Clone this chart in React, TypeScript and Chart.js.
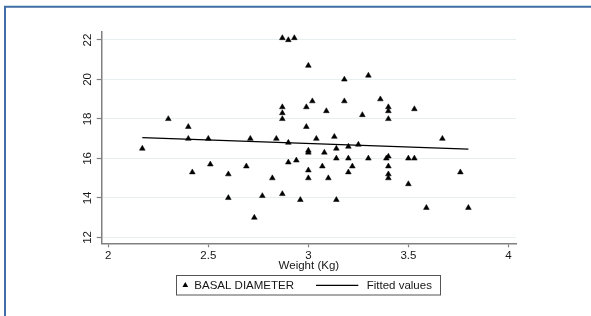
import React, { useEffect, useRef } from "react";
import { Chart, registerables } from "chart.js";

Chart.register(...registerables);

// Data
const weightKg = [
  2.17, 2.30, 2.40, 2.40, 2.42, 2.50, 2.51, 2.60, 2.60, 2.69,
  2.71, 2.73, 2.77, 2.82, 2.84, 2.87, 2.87, 2.87, 2.87, 2.87,
  2.90, 2.93, 2.90, 2.90, 2.94, 2.96, 2.99, 2.99, 3.00, 3.00,
  3.00, 3.00, 3.00, 3.02, 3.04, 3.07, 3.08, 3.09, 3.10, 3.13,
  3.14, 3.14, 3.14, 3.18, 3.18, 3.20, 3.20, 3.20, 3.22, 3.25,
  3.27, 3.30, 3.30, 3.36, 3.39, 3.40, 3.40, 3.40, 3.40, 3.40,
  3.40, 3.40, 3.50, 3.50, 3.53, 3.53, 3.59, 3.67, 3.76, 3.80,
];
const basalDiameter = [
  16.5, 18.0, 17.6, 17.0, 15.3, 17.0, 15.7, 15.2, 14.0, 15.6,
  17.0, 13.0, 14.1, 15.0, 17.0, 14.2, 18.0, 18.3, 18.6, 22.1,
  22.0, 22.1, 16.8, 15.8, 15.9, 13.9, 17.6, 18.6, 20.7, 16.4,
  16.3, 15.4, 15.0, 18.9, 17.0, 15.6, 16.3, 18.4, 15.0, 17.1,
  16.5, 16.0, 13.9, 20.0, 18.9, 16.6, 16.0, 15.3, 15.6, 16.7,
  18.2, 20.2, 16.0, 19.0, 16.0, 16.1, 15.6, 15.2, 15.0, 18.0,
  18.4, 18.6, 16.0, 14.7, 16.0, 18.5, 13.5, 17.0, 15.3, 13.5,
];
const fittedX = [2.17, 3.80];
const fittedY = [17.05, 16.47];

const xTickValues = [2, 2.5, 3, 3.5, 4];
const yTickValues = [12, 14, 16, 18, 20, 22];
const seriesLabels = ["BASAL DIAMETER", "Fitted values"];
const xAxisTitle = "Weight (Kg)";

const FONT_FAMILY = "'Liberation Sans', Arial, Helvetica, sans-serif";
const FONT_SIZE = 11.5;
const TEXT_COLOR = "#161616";
const AXIS_COLOR = "#808080";

const framePlugin = {
  id: "frame",
  beforeDraw(chart: any) {
    const ctx = chart.ctx;
    ctx.save();
    ctx.fillStyle = "#ffffff";
    ctx.fillRect(0, 0, chart.width, chart.height);
    ctx.restore();
  },
  afterDraw(chart: any) {
    const ctx = chart.ctx;
    ctx.save();
    ctx.strokeStyle = "#3f6fa6";
    ctx.lineWidth = 2;
    ctx.beginPath();
    ctx.moveTo(5, chart.height + 10);
    ctx.lineTo(5, 6.7);
    ctx.lineTo(chart.width + 10, 6.7);
    ctx.stroke();
    ctx.restore();
  },
};

const yLabelPlugin = {
  id: "yRotatedLabels",
  afterDraw(chart: any) {
    const ctx = chart.ctx;
    const ys = chart.scales.y;
    ctx.save();
    ctx.font = `${FONT_SIZE}px ${FONT_FAMILY}`;
    ctx.fillStyle = TEXT_COLOR;
    ctx.textAlign = "center";
    ctx.textBaseline = "middle";
    yTickValues.forEach((v) => {
      const py = ys.getPixelForValue(v);
      ctx.save();
      ctx.translate(ys.right - 13.5, py);
      ctx.rotate(-Math.PI / 2);
      ctx.fillText(String(v), 0, 0);
      ctx.restore();
    });
    ctx.restore();
  },
};

const legendPlugin = {
  id: "boxLegend",
  afterDraw(chart: any) {
    const ctx = chart.ctx;
    const labels = chart.data.datasets.map((d: any) => d.label);
    ctx.save();
    ctx.strokeStyle = "#555555";
    ctx.lineWidth = 1;
    ctx.strokeRect(176.5, 275.5, 264, 19.5);
    const cy = 285.3;
    // triangle marker
    const r = 3.3;
    const cx = 185.3;
    ctx.fillStyle = "#000";
    ctx.beginPath();
    ctx.moveTo(cx, cy - r);
    ctx.lineTo(cx + r * 0.866, cy + r * 0.5);
    ctx.lineTo(cx - r * 0.866, cy + r * 0.5);
    ctx.closePath();
    ctx.fill();
    ctx.font = `${FONT_SIZE}px ${FONT_FAMILY}`;
    ctx.fillStyle = TEXT_COLOR;
    ctx.textAlign = "left";
    ctx.textBaseline = "middle";
    ctx.fillText(labels[0], 194.3, cy + 0.5);
    // line marker
    ctx.strokeStyle = "#000";
    ctx.lineWidth = 1.2;
    ctx.beginPath();
    ctx.moveTo(316, cy);
    ctx.lineTo(358.3, cy);
    ctx.stroke();
    ctx.fillText(labels[1], 366.7, cy + 0.5);
    ctx.restore();
  },
};

export default function App() {
  const canvasRef = useRef<HTMLCanvasElement | null>(null);

  useEffect(() => {
    if (!canvasRef.current) return;
    const font = { family: FONT_FAMILY, size: FONT_SIZE };
    const chart = new Chart(canvasRef.current, {
      type: "scatter",
      data: {
        datasets: [
          {
            label: seriesLabels[0],
            data: weightKg.map((x, i) => ({ x, y: basalDiameter[i] })),
            pointStyle: "triangle",
            pointRadius: 3.3,
            pointHoverRadius: 3.3,
            backgroundColor: "#000000",
            borderColor: "#000000",
            borderWidth: 0.5,
          },
          {
            label: seriesLabels[1],
            data: fittedX.map((x, i) => ({ x, y: fittedY[i] })),
            showLine: true,
            pointRadius: 0,
            borderColor: "#000000",
            backgroundColor: "#000000",
            borderWidth: 1.2,
          },
        ],
      },
      options: {
        animation: false,
        responsive: true,
        maintainAspectRatio: false,
        layout: { padding: { left: 0, top: 31.7, right: 75, bottom: 43.6 } },
        plugins: {
          legend: { display: false },
          tooltip: { enabled: false },
        },
        scales: {
          x: {
            type: "linear",
            min: 1.967,
            max: 4.038,
            afterBuildTicks: (s: any) => {
              s.ticks = xTickValues.map((v) => ({ value: v }));
            },
            afterFit: (s: any) => {
              s.height = 29.1;
            },
            grid: {
              drawOnChartArea: false,
              drawTicks: true,
              tickLength: 4,
              tickColor: AXIS_COLOR,
              tickWidth: 1.2,
            },
            border: { color: AXIS_COLOR, width: 1.5 },
            ticks: {
              font,
              color: TEXT_COLOR,
              padding: 2,
              maxRotation: 0,
              autoSkip: false,
              callback: (v: any) => String(v),
            },
            title: {
              display: true,
              text: xAxisTitle,
              font,
              color: TEXT_COLOR,
              padding: 0,
            },
          },
          y: {
            type: "linear",
            min: 11.7,
            max: 22.42,
            afterBuildTicks: (s: any) => {
              s.ticks = yTickValues.map((v) => ({ value: v }));
            },
            afterFit: (s: any) => {
              s.width = 101.7;
            },
            grid: {
              color: "#e7f0f0",
              lineWidth: 1,
              drawTicks: true,
              tickLength: 5,
              tickColor: AXIS_COLOR,
              tickWidth: 1.2,
            },
            border: { color: AXIS_COLOR, width: 1.5 },
            ticks: { display: false },
          },
        },
      },
      plugins: [framePlugin, yLabelPlugin, legendPlugin],
    } as any);
    return () => chart.destroy();
  }, []);

  return (
    <div style={{ position: "fixed", left: 0, top: 0, width: 591, height: 316, background: "#fff" }}>
      <canvas ref={canvasRef} />
    </div>
  );
}
